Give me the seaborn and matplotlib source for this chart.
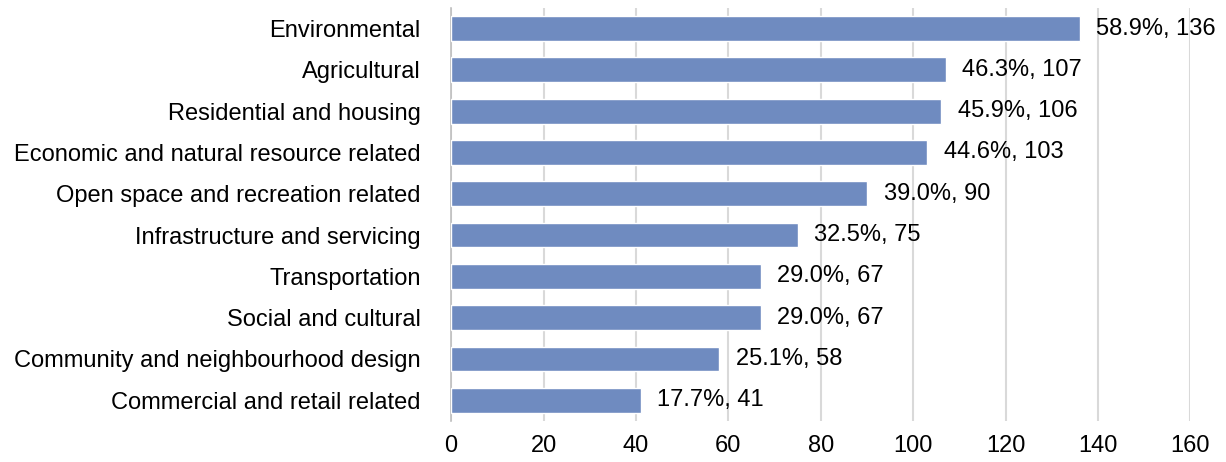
import matplotlib
matplotlib.use("Agg")
import matplotlib.pyplot as plt
import numpy as np
import pandas as pd
import seaborn as sns

categories = [
    "Environmental",
    "Agricultural",
    "Residential and housing",
    "Economic and natural resource related",
    "Open space and recreation related",
    "Infrastructure and servicing",
    "Transportation",
    "Social and cultural",
    "Community and neighbourhood design",
    "Commercial and retail related",
]
counts = [136, 107, 106, 103, 90, 75, 67, 67, 58, 41]
percents = [58.9, 46.3, 45.9, 44.6, 39.0, 32.5, 29.0, 29.0, 25.1, 17.7]
xticks = [0, 20, 40, 60, 80, 100, 120, 140, 160]

df = pd.DataFrame({"category": categories, "count": counts, "pct": percents})

sns.set_style("white")
plt.rcParams["font.family"] = ["Liberation Sans", "DejaVu Sans"]
plt.rcParams["text.color"] = "black"
plt.rcParams["xtick.color"] = "black"
plt.rcParams["ytick.color"] = "black"

fig = plt.figure(figsize=(12.26, 4.62), dpi=100)
ax = fig.add_axes([0.368, 0.089, 0.603, 0.894])

sns.barplot(data=df, y="category", x="count", color="#6F8BC0", saturation=1,
            width=0.6, orient="h", ax=ax, zorder=3)

for i, (c, p) in enumerate(zip(counts, percents)):
    ax.text(c + 3.6, i, f"{p:.1f}%, {c}", va="center", ha="left", fontsize=17,
            color="black", zorder=4)

ax.set_xlim(0, 160)
ax.set_ylim(len(categories) - 0.5, -0.5)
ax.set_xticks(xticks)
ax.set_xticklabels([str(t) for t in xticks], fontsize=17)
ax.tick_params(axis="x", length=0, pad=10, labelcolor="black")
ax.tick_params(axis="y", which="major", length=0, labelsize=17, pad=22,
               labelcolor="black")
ax.set_yticks(np.arange(-0.5, len(categories), 1), minor=True)
ax.tick_params(axis="y", which="minor", length=6, width=1.2, color="#BFBFBF")
ax.xaxis.grid(True, color="#D9D9D9", linewidth=1.5, zorder=0)
ax.set_xlabel("")
ax.set_ylabel("")
for s in ["top", "right", "bottom"]:
    ax.spines[s].set_visible(False)
ax.spines["left"].set_color("#BFBFBF")
ax.spines["left"].set_linewidth(1.2)

fig.savefig("out.png", dpi=100)
